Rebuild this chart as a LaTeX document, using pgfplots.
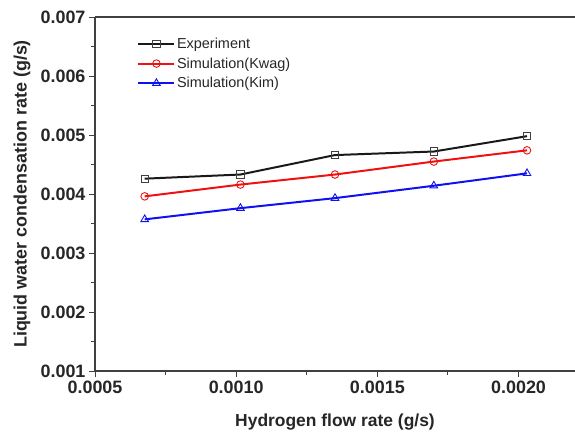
\documentclass[border=0pt]{standalone}
\usepackage{pgfplots}
\pgfplotsset{compat=1.18}
\usepackage{fontspec}
\setmainfont{Liberation Sans}

\definecolor{axisgray}{HTML}{404040}
\definecolor{simred}{HTML}{F01010}
\definecolor{simblue}{HTML}{1010F0}

\begin{document}
\begin{tikzpicture}
    \begin{axis}[
        scale only axis,
        width=480bp,
        height=354bp,
        xmin=0.0005, xmax=0.0022,
        ymin=0.001, ymax=0.007,
        axis x line*=box,
        axis y line*=left,
        xtick pos=bottom,
        xtick={0.0005,0.0010,0.0015,0.0020},
        ytick={0.001,0.002,0.003,0.004,0.005,0.006,0.007},
        minor x tick num=1,
        minor y tick num=1,
        tick align=outside,
        major tick length=6bp,
        minor tick length=3.5bp,
        axis line style={axisgray, line width=1.1pt},
        every tick/.style={axisgray, line width=1pt},
        scaled ticks=false,
        xticklabel style={/pgf/number format/.cd, fixed, fixed zerofill, precision=4},
        yticklabel style={/pgf/number format/.cd, fixed, fixed zerofill, precision=3},
        /pgf/number format/assume math mode=true,
        tick label style={font=\fontsize{18}{20}\selectfont\bfseries, text=black!85},
        xlabel={Hydrogen flow rate (g/s)},
        ylabel={Liquid water condensation rate (g/s)},
        xlabel style={font=\fontsize{17.5}{20}\selectfont\bfseries, text=black!85,
            at={(axis description cs:0.5,0)}, anchor=north, yshift=-39bp},
        ylabel style={font=\fontsize{18}{20}\selectfont\bfseries, text=black!85,
            at={(axis description cs:-0.152,0.5)}, anchor=center, rotate=0},
        legend style={at={(axis description cs:0.088,0.946)}, anchor=north west,
            draw=none, fill=none, inner sep=0pt, row sep=4.5bp,
            font=\fontsize{14.5}{16}\selectfont, text=black!85,
            nodes={inner sep=1.6bp}},
        legend cell align=left,
        legend image code/.code={
            \draw[mark repeat=2, mark phase=2]
                plot coordinates {(0bp,0bp) (18bp,0bp) (36bp,0bp)};
        },
        clip=false
    ]
        % Experiment
        \addplot[black!90, line width=2pt, mark=square, mark size=3.6bp,
            mark options={fill=white, line width=1pt, draw=black!75, solid}]
            coordinates {
            (0.000676, 0.00426)
            (0.001015, 0.00433)
            (0.00135, 0.00466)
            (0.00170, 0.00472)
            (0.00203, 0.00498)
        };
        \addlegendentry{Experiment}

        % Simulation (Kwag)
        \addplot[simred, line width=2pt, mark=o, mark size=3.8bp,
            mark options={fill=white, line width=0.9pt, solid}]
            coordinates {
            (0.000676, 0.00396)
            (0.001015, 0.00416)
            (0.00135, 0.00433)
            (0.00170, 0.00455)
            (0.00203, 0.00474)
        };
        \addlegendentry{Simulation(Kwag)}

        % Simulation (Kim)
        \addplot[simblue, line width=2pt, mark=triangle, mark size=4.4bp,
            mark options={fill=white, line width=0.9pt, solid}]
            coordinates {
            (0.000676, 0.00357)
            (0.001015, 0.00376)
            (0.00135, 0.00393)
            (0.00170, 0.00414)
            (0.00203, 0.00435)
        };
        \addlegendentry{Simulation(Kim)}
    \end{axis}
    \pgfresetboundingbox
    \path ([xshift=-95bp,yshift=-63bp]current axis.south west)
        rectangle ([yshift=17bp]current axis.north east);
\end{tikzpicture}
\end{document}
